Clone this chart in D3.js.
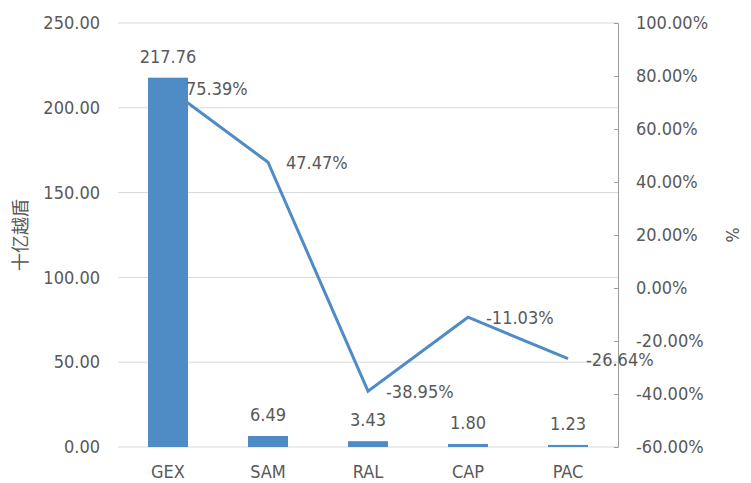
<!DOCTYPE html>
<html>
<head>
<meta charset="utf-8">
<script src="https://cdn.jsdelivr.net/npm/d3@7"></script>
<style>
  body { margin: 0; background: #fff; }
  text { font-family: "DejaVu Sans Condensed", "DejaVu Sans", sans-serif; font-stretch: condensed; fill: #595959; }
</style>
</head>
<body>
<svg id="chart"></svg>
<script>
// data
const categories = ["GEX", "SAM", "RAL", "CAP", "PAC"];
const barValues = [217.76, 6.49, 3.43, 1.80, 1.23];
const pctValues = [75.39, 47.47, -38.95, -11.03, -26.64];
const leftTicks = [0, 50, 100, 150, 200, 250];
const rightTicks = [-60, -40, -20, 0, 20, 40, 60, 80, 100];

const W = 751, H = 483;
const margin = { top: 23, right: 133, bottom: 36, left: 118 };
const width = W - margin.left - margin.right;
const height = H - margin.top - margin.bottom;
const blue = "#4f8bc5";
const fs = 18;

const svg = d3.select("#chart").attr("width", W).attr("height", H);
const g = svg.append("g").attr("transform", "translate(" + margin.left + "," + margin.top + ")");

const x = d3.scaleBand().domain(categories).range([0, width]).paddingInner(0.6).paddingOuter(0.3);
const y = d3.scaleLinear().domain([0, 250]).range([height, 0]);
const y2 = d3.scaleLinear().domain([-60, 100]).range([height, 0]);
const cx = d => x(d) + x.bandwidth() / 2;

// gridlines
g.selectAll(".grid").data(leftTicks).enter().append("line")
  .attr("x1", 0).attr("x2", width)
  .attr("y1", d => y(d)).attr("y2", d => y(d))
  .attr("stroke", "#d9d9d9").attr("stroke-width", 1);

// left axis labels
const yAxis = g.append("g").call(d3.axisLeft(y).tickValues(leftTicks).tickSize(0).tickPadding(18).tickFormat(d3.format(".2f")));
yAxis.select(".domain").remove();
yAxis.selectAll("text").attr("font-size", fs).style("font-family", null);

// right axis
const y2Axis = g.append("g").attr("transform", "translate(" + width + ",0)")
  .call(d3.axisRight(y2).tickValues(rightTicks).tickSizeInner(-4).tickSizeOuter(-4).tickPadding(18).tickFormat(d => d.toFixed(2) + "%"));
y2Axis.select(".domain").attr("stroke", "#9a9a9a");
y2Axis.selectAll(".tick line").attr("stroke", "#9a9a9a");
y2Axis.selectAll("text").attr("font-size", fs).style("font-family", null);

// x labels
g.selectAll(".xl").data(categories).enter().append("text")
  .attr("x", d => cx(d)).attr("y", height + 26)
  .attr("text-anchor", "middle").attr("dominant-baseline", "middle")
  .attr("font-size", fs).text(d => d);

// line (under bars)
const pts = categories.map((c, i) => [cx(c), y2(pctValues[i])]);
g.append("path").datum(pts)
  .attr("d", d3.line())
  .attr("fill", "none").attr("stroke", blue).attr("stroke-width", 3);

// bars
g.selectAll(".bar").data(barValues).enter().append("rect")
  .attr("x", (d, i) => x(categories[i]))
  .attr("width", x.bandwidth())
  .attr("y", d => y(d))
  .attr("height", d => height - y(d))
  .attr("fill", blue);

// bar labels
g.selectAll(".bl").data(barValues).enter().append("text")
  .attr("x", (d, i) => cx(categories[i])).attr("y", d => y(d) - 20)
  .attr("text-anchor", "middle").attr("dominant-baseline", "middle")
  .attr("font-size", fs).text(d => d.toFixed(2));

// line labels
g.selectAll(".pl").data(pctValues).enter().append("text")
  .attr("x", (d, i) => cx(categories[i]) + 18).attr("y", d => y2(d) + 2)
  .attr("dominant-baseline", "middle")
  .attr("font-size", fs).text(d => d.toFixed(2) + "%");

// axis titles
svg.append("text").attr("transform", "translate(22," + (margin.top + height / 2) + ") rotate(-90)")
  .attr("text-anchor", "middle").attr("dominant-baseline", "middle")
  .attr("font-size", fs).style("font-family", "'Noto Sans CJK SC', sans-serif").text("十亿越盾");
svg.append("text").attr("transform", "translate(731," + (margin.top + height / 2) + ") rotate(90)")
  .attr("text-anchor", "middle").attr("dominant-baseline", "middle")
  .attr("font-size", fs).text("%");
</script>
</body>
</html>
